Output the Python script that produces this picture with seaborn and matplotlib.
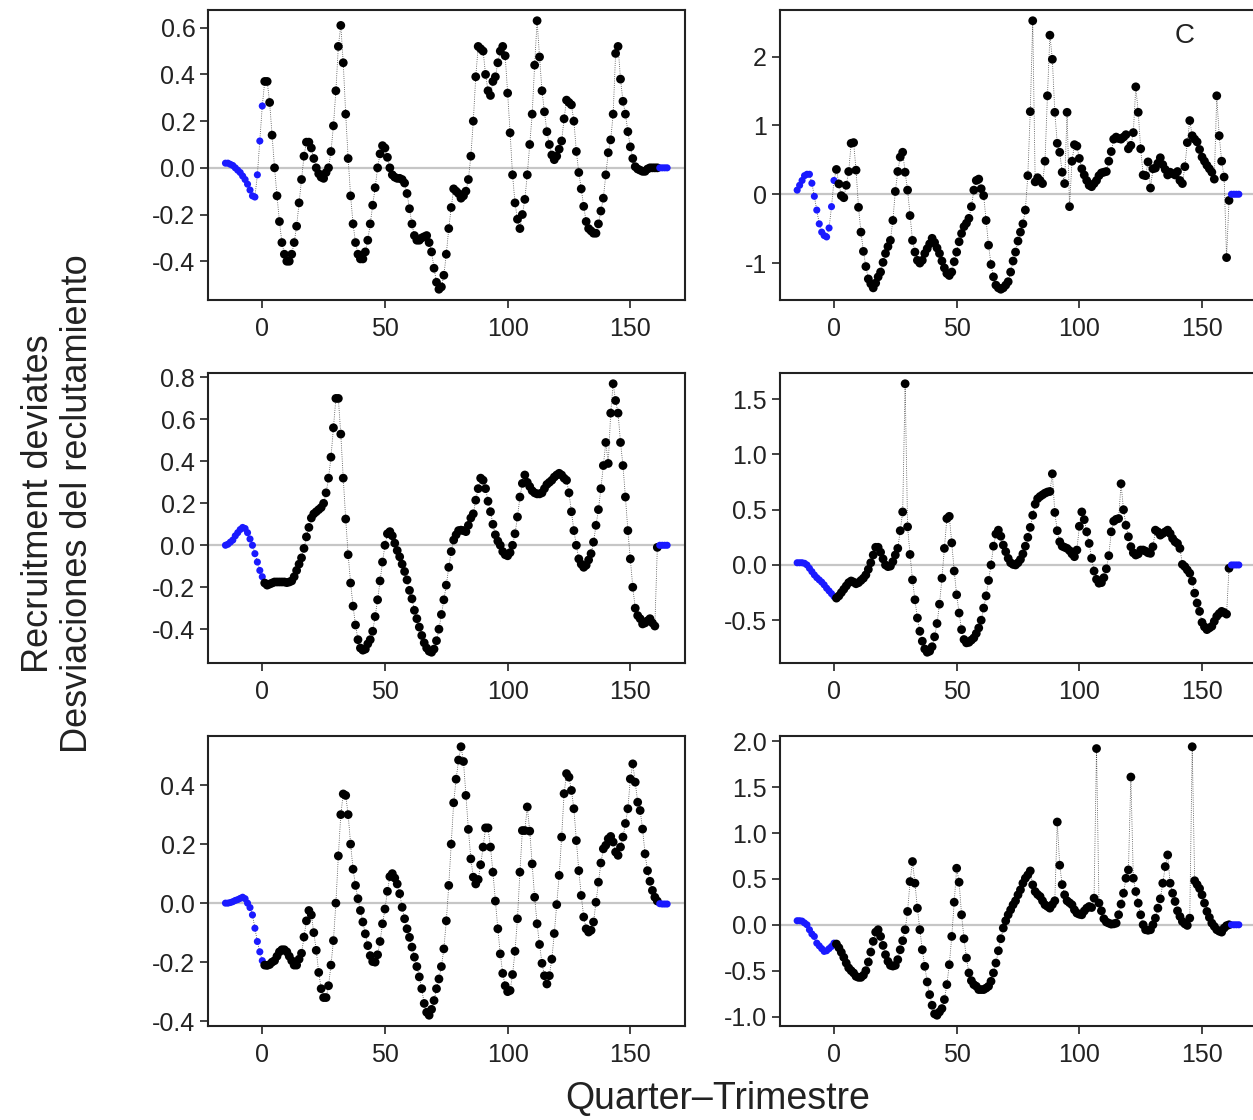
import numpy as np
import pandas as pd
import seaborn as sns
import matplotlib.pyplot as plt

sns.set_theme(style="ticks")
plt.rcParams['font.family'] = ['Liberation Sans', 'DejaVu Sans']
plt.rcParams['axes.unicode_minus'] = False

# first quarter of every series (blue = fixed / projected part)
start_quarter = -15

# recruitment deviates, one value per quarter from -15
top_left = [0.02, 0.02, 0.015, 0.01, 0.0, -0.01, -0.02, -0.035, -0.05, -0.07, -0.095, -0.12, -0.125, -0.03, 0.115, 0.265,
            0.37, 0.37, 0.28, 0.14, 0.0, -0.12, -0.23, -0.32, -0.37, -0.40, -0.40, -0.37, -0.32, -0.25, -0.15, -0.05, 0.05, 0.11, 0.11, 0.085,
            0.04, 0.0, -0.025, -0.04, -0.045, -0.02, 0.0, 0.07, 0.18, 0.33, 0.52, 0.61, 0.45, 0.23, 0.04, -0.12, -0.24, -0.32, -0.37, -0.39,
            -0.39, -0.36, -0.31, -0.24, -0.16, -0.085, 0.0, 0.06, 0.095, 0.085, 0.045, 0.0, -0.03, -0.04, -0.045, -0.045, -0.05, -0.065, -0.11, -0.175,
            -0.24, -0.29, -0.31, -0.31, -0.30, -0.295, -0.29, -0.32, -0.36, -0.43, -0.49, -0.52, -0.51, -0.46, -0.37, -0.26, -0.17, -0.09, -0.10, -0.11,
            -0.13, -0.12, -0.10, -0.05, 0.05, 0.20, 0.39, 0.52, 0.51, 0.50, 0.40, 0.33, 0.31, 0.37, 0.39, 0.45, 0.50, 0.52, 0.48, 0.32,
            0.15, -0.03, -0.15, -0.22, -0.26, -0.20, -0.135, -0.03, 0.10, 0.23, 0.44, 0.63, 0.475, 0.33, 0.24, 0.155, 0.10, 0.055, 0.035, 0.05,
            0.08, 0.115, 0.21, 0.29, 0.28, 0.27, 0.20, 0.07, -0.02, -0.09, -0.165, -0.23, -0.26, -0.27, -0.28, -0.28, -0.24, -0.185, -0.13, -0.03,
            0.065, 0.12, 0.23, 0.49, 0.52, 0.38, 0.285, 0.23, 0.155, 0.09, 0.04, 0.005, -0.005, -0.01, -0.015, -0.015, -0.005, 0.0, 0.0, 0.0,
            0.0, 0.0, 0.0, 0.0, 0.0]

top_right = [0.06, 0.13, 0.20, 0.27, 0.29, 0.29, 0.16, -0.03, -0.23, -0.43, -0.55, -0.60, -0.62, -0.49, -0.18, 0.20,
             0.36, 0.15, -0.02, -0.05, 0.13, 0.33, 0.74, 0.75, 0.35, -0.19, -0.55, -0.83, -1.05, -1.23, -1.30, -1.36, -1.29, -1.20, -1.13, -0.99,
             -0.86, -0.76, -0.67, -0.38, 0.04, 0.33, 0.54, 0.61, 0.32, 0.06, -0.31, -0.67, -0.84, -0.96, -1.0, -0.96, -0.86, -0.79, -0.72, -0.64,
             -0.70, -0.78, -0.86, -0.97, -1.07, -1.15, -1.18, -1.13, -0.98, -0.84, -0.69, -0.57, -0.47, -0.42, -0.35, -0.18, 0.06, 0.20, 0.22, 0.08,
             -0.02, -0.38, -0.74, -1.02, -1.20, -1.32, -1.36, -1.38, -1.36, -1.32, -1.27, -1.13, -0.97, -0.84, -0.68, -0.55, -0.43, -0.23, 0.27, 1.20,
             2.52, 0.18, 0.24, 0.20, 0.155, 0.48, 1.43, 2.31, 1.96, 1.19, 0.74, 0.61, 0.32, 0.155, 1.19, -0.18, 0.48, 0.72, 0.70, 0.52,
             0.37, 0.28, 0.20, 0.13, 0.11, 0.155, 0.20, 0.27, 0.31, 0.32, 0.33, 0.48, 0.62, 0.80, 0.83, 0.81, 0.80, 0.83, 0.865, 0.66,
             0.71, 0.895, 1.56, 1.19, 0.66, 0.28, 0.27, 0.47, 0.09, 0.37, 0.38, 0.45, 0.53, 0.43, 0.36, 0.28, 0.32, 0.30, 0.28, 0.33,
             0.20, 0.155, 0.40, 0.75, 1.07, 0.85, 0.80, 0.76, 0.65, 0.54, 0.48, 0.42, 0.37, 0.32, 0.22, 1.43, 0.85, 0.48, 0.25, -0.92,
             -0.09, 0.0, 0.0, 0.0, 0.0]

mid_left = [0.0, 0.005, 0.015, 0.025, 0.045, 0.06, 0.075, 0.085, 0.08, 0.06, 0.03, 0.0, -0.04, -0.08, -0.12, -0.15,
            -0.18, -0.19, -0.185, -0.18, -0.175, -0.175, -0.175, -0.175, -0.175, -0.178, -0.175, -0.17, -0.15, -0.12, -0.09, -0.06, -0.015, 0.04, 0.085, 0.13,
            0.15, 0.16, 0.17, 0.18, 0.20, 0.25, 0.32, 0.42, 0.56, 0.70, 0.70, 0.53, 0.32, 0.125, -0.045, -0.18, -0.29, -0.38, -0.45, -0.49,
            -0.50, -0.495, -0.47, -0.45, -0.41, -0.34, -0.26, -0.17, -0.08, 0.0, 0.055, 0.065, 0.045, 0.01, -0.025, -0.055, -0.09, -0.125, -0.165, -0.215,
            -0.255, -0.31, -0.35, -0.39, -0.43, -0.465, -0.49, -0.505, -0.51, -0.495, -0.455, -0.40, -0.33, -0.26, -0.19, -0.105, -0.03, 0.025, 0.05, 0.07,
            0.072, 0.07, 0.065, 0.095, 0.13, 0.15, 0.215, 0.27, 0.32, 0.31, 0.27, 0.21, 0.16, 0.10, 0.05, 0.02, 0.0, -0.03, -0.045, -0.05,
            -0.035, 0.0, 0.055, 0.135, 0.23, 0.295, 0.335, 0.30, 0.28, 0.26, 0.25, 0.245, 0.245, 0.25, 0.27, 0.29, 0.30, 0.31, 0.325, 0.335,
            0.343, 0.335, 0.32, 0.31, 0.25, 0.16, 0.07, 0.0, -0.065, -0.09, -0.105, -0.095, -0.07, -0.04, 0.015, 0.095, 0.17, 0.27, 0.38, 0.49,
            0.39, 0.63, 0.77, 0.69, 0.63, 0.49, 0.38, 0.23, 0.07, -0.065, -0.20, -0.30, -0.335, -0.35, -0.375, -0.37, -0.36, -0.35, -0.37, -0.385,
            -0.01, 0.0, 0.0, 0.0, 0.0]

mid_right = [0.02, 0.02, 0.02, 0.015, 0.0, -0.03, -0.06, -0.09, -0.115, -0.135, -0.155, -0.18, -0.21, -0.235, -0.26, -0.285,
             -0.30, -0.28, -0.25, -0.22, -0.19, -0.16, -0.145, -0.155, -0.17, -0.16, -0.14, -0.12, -0.09, -0.04, 0.02, 0.09, 0.16, 0.16, 0.115, 0.055,
             0.0, -0.015, -0.01, 0.03, 0.09, 0.15, 0.31, 0.48, 1.64, 0.345, 0.095, -0.135, -0.315, -0.48, -0.60, -0.69, -0.76, -0.79, -0.78, -0.74,
             -0.65, -0.53, -0.355, -0.12, 0.15, 0.42, 0.44, 0.20, -0.055, -0.27, -0.435, -0.585, -0.675, -0.705, -0.70, -0.68, -0.66, -0.62, -0.57, -0.50,
             -0.39, -0.28, -0.14, 0.0, 0.17, 0.28, 0.315, 0.26, 0.18, 0.12, 0.06, 0.02, 0.005, 0.0, 0.02, 0.05, 0.10, 0.17, 0.25, 0.34,
             0.45, 0.55, 0.60, 0.62, 0.635, 0.65, 0.66, 0.665, 0.825, 0.475, 0.31, 0.21, 0.17, 0.16, 0.15, 0.13, 0.10, 0.075, 0.135, 0.35,
             0.48, 0.41, 0.30, 0.195, 0.06, -0.055, -0.13, -0.165, -0.16, -0.115, -0.035, 0.084, 0.30, 0.396, 0.413, 0.42, 0.735, 0.50, 0.36, 0.255,
             0.165, 0.11, 0.09, 0.10, 0.135, 0.135, 0.125, 0.11, 0.105, 0.165, 0.315, 0.30, 0.27, 0.285, 0.30, 0.315, 0.285, 0.24, 0.21, 0.195,
             0.15, 0.005, -0.015, -0.045, -0.075, -0.145, -0.255, -0.345, -0.42, -0.52, -0.56, -0.585, -0.57, -0.555, -0.51, -0.465, -0.44, -0.42, -0.43, -0.445,
             -0.03, 0.0, 0.0, 0.0, 0.0]

bot_left = [0.0, 0.0, 0.002, 0.005, 0.009, 0.012, 0.016, 0.02, 0.015, 0.0, -0.015, -0.04, -0.085, -0.13, -0.165, -0.195,
            -0.21, -0.211, -0.208, -0.20, -0.195, -0.18, -0.165, -0.158, -0.158, -0.165, -0.18, -0.195, -0.21, -0.21, -0.19, -0.17, -0.115, -0.06, -0.025, -0.04,
            -0.10, -0.16, -0.235, -0.29, -0.32, -0.32, -0.28, -0.21, -0.127, 0.0, 0.16, 0.30, 0.37, 0.365, 0.30, 0.20, 0.115, 0.06, 0.015, -0.025,
            -0.064, -0.104, -0.144, -0.178, -0.198, -0.20, -0.175, -0.13, -0.07, -0.02, 0.04, 0.09, 0.10, 0.085, 0.065, 0.032, -0.014, -0.053, -0.087, -0.116,
            -0.149, -0.183, -0.215, -0.25, -0.29, -0.34, -0.37, -0.38, -0.36, -0.33, -0.29, -0.257, -0.215, -0.155, -0.06, 0.06, 0.20, 0.34, 0.42, 0.485,
            0.53, 0.48, 0.365, 0.25, 0.15, 0.088, 0.065, 0.08, 0.13, 0.19, 0.255, 0.255, 0.19, 0.105, 0.007, -0.087, -0.172, -0.238, -0.28, -0.30,
            -0.296, -0.242, -0.163, -0.053, 0.105, 0.246, 0.246, 0.326, 0.244, 0.133, 0.02, -0.07, -0.14, -0.204, -0.246, -0.274, -0.246, -0.19, -0.103, -0.005,
            0.094, 0.224, 0.371, 0.439, 0.427, 0.382, 0.32, 0.212, 0.11, 0.026, -0.047, -0.087, -0.098, -0.092, -0.064, 0.003, 0.071, 0.136, 0.184, 0.196,
            0.218, 0.226, 0.207, 0.173, 0.162, 0.19, 0.224, 0.27, 0.32, 0.421, 0.472, 0.41, 0.342, 0.314, 0.251, 0.167, 0.11, 0.074, 0.043, 0.02,
            0.007, -0.002, -0.003, -0.003, -0.003]

bot_right = [0.044, 0.044, 0.04, 0.02, 0.0, -0.054, -0.10, -0.127, -0.20, -0.23, -0.26, -0.29, -0.283, -0.26, -0.236, -0.20,
             -0.21, -0.25, -0.30, -0.355, -0.417, -0.47, -0.50, -0.525, -0.562, -0.573, -0.573, -0.55, -0.50, -0.406, -0.297, -0.181, -0.08, -0.054, -0.127, -0.225,
             -0.326, -0.399, -0.442, -0.45, -0.442, -0.38, -0.272, -0.174, -0.054, 0.145, 0.471, 0.689, 0.453, 0.181, -0.054, -0.272, -0.453, -0.623, -0.761, -0.877,
             -0.971, -0.986, -0.95, -0.913, -0.815, -0.652, -0.435, -0.127, 0.246, 0.616, 0.464, 0.109, -0.152, -0.362, -0.525, -0.609, -0.652, -0.67, -0.706, -0.706,
             -0.706, -0.69, -0.67, -0.616, -0.525, -0.417, -0.283, -0.152, -0.036, 0.044, 0.109, 0.163, 0.218, 0.261, 0.326, 0.381, 0.453, 0.507, 0.543, 0.587,
             0.435, 0.362, 0.33, 0.308, 0.261, 0.218, 0.20, 0.181, 0.22, 0.261, 1.12, 0.649, 0.438, 0.326, 0.261, 0.24, 0.218, 0.163, 0.127, 0.115,
             0.109, 0.15, 0.181, 0.199, 0.188, 0.29, 1.92, 0.236, 0.152, 0.065, 0.03, 0.018, 0.007, 0.01, 0.018, 0.109, 0.225, 0.344, 0.507, 0.598,
             1.61, 0.507, 0.362, 0.236, 0.109, 0.0, -0.054, -0.06, -0.054, 0.0, 0.072, 0.181, 0.283, 0.453, 0.634, 0.761, 0.453, 0.344, 0.254, 0.152,
             0.09, 0.036, 0.01, -0.007, 0.072, 1.94, 0.48, 0.438, 0.395, 0.326, 0.236, 0.145, 0.08, 0.018, -0.018, -0.054, -0.07, -0.08, -0.036, -0.01,
             0.0, 0.0, 0.0, 0.0, 0.0]

x_ticks = [0, 50, 100, 150]
top_left_ticks = [-0.4, -0.2, 0.0, 0.2, 0.4, 0.6]
top_right_ticks = [-1, 0, 1, 2]
mid_left_ticks = [-0.4, -0.2, 0.0, 0.2, 0.4, 0.6, 0.8]
mid_right_ticks = [-0.5, 0.0, 0.5, 1.0, 1.5]
bot_left_ticks = [-0.4, -0.2, 0.0, 0.2, 0.4]
bot_right_ticks = [-1.0, -0.5, 0.0, 0.5, 1.0, 1.5, 2.0]


def make_frame(values):
    quarter = np.arange(start_quarter, start_quarter + len(values))
    df = pd.DataFrame({"quarter": quarter, "deviate": values})
    df["part"] = np.where((df["quarter"] <= 0) | (df["quarter"] >= 162), "fixed", "estimated")
    return df


def draw_panel(ax, values, yticks, fmt):
    df = make_frame(values)
    ax.axhline(0, color="#c6c6c6", lw=1.6, zorder=0)
    sns.lineplot(data=df, x="quarter", y="deviate", ax=ax, color="#444444", lw=0.6,
                 linestyle=":", sort=False, estimator=None, zorder=1)
    sns.scatterplot(data=df, x="quarter", y="deviate", hue="part", size="part",
                    palette={"estimated": "black", "fixed": "#1a1aff"},
                    sizes={"estimated": 40, "fixed": 26},
                    linewidth=0, legend=False, ax=ax, zorder=2)
    ax.margins(x=0.04, y=0.04)
    ax.set_xticks(x_ticks)
    ax.set_yticks(yticks)
    ax.set_yticklabels([fmt % t for t in yticks])
    ax.set_xlabel("")
    ax.set_ylabel("")
    ax.tick_params(length=6, width=1.2, labelsize=18, colors="#222222", pad=3)
    ax.tick_params(axis="x", pad=6)
    for spine in ax.spines.values():
        spine.set_visible(True)
        spine.set_linewidth(1.5)
        spine.set_color("#222222")


fig = plt.figure(figsize=(12.53, 11.2), dpi=100)

# panel boxes in figure fractions (right column runs slightly off the page, as in the source)
col_left = [207.8 / 1253, 779.5 / 1253]
col_width = 477 / 1253
row_bottom = [1 - 300 / 1120, 1 - 663 / 1120, 1 - 1026 / 1120]
row_height = 290 / 1120

ax1 = fig.add_axes([col_left[0], row_bottom[0], col_width, row_height])
draw_panel(ax1, top_left, top_left_ticks, "%.1f")

ax2 = fig.add_axes([col_left[1], row_bottom[0], col_width, row_height])
draw_panel(ax2, top_right, top_right_ticks, "%d")
ax2.text(0.85, 0.91, "C", transform=ax2.transAxes, fontsize=20, ha="center", va="center", color="#222222")

ax3 = fig.add_axes([col_left[0], row_bottom[1], col_width, row_height])
draw_panel(ax3, mid_left, mid_left_ticks, "%.1f")

ax4 = fig.add_axes([col_left[1], row_bottom[1], col_width, row_height])
draw_panel(ax4, mid_right, mid_right_ticks, "%.1f")

ax5 = fig.add_axes([col_left[0], row_bottom[2], col_width, row_height])
draw_panel(ax5, bot_left, bot_left_ticks, "%.1f")

ax6 = fig.add_axes([col_left[1], row_bottom[2], col_width, row_height])
draw_panel(ax6, bot_right, bot_right_ticks, "%.1f")

fig.text(0.046, 0.55, "Recruitment deviates\nDesviaciones del reclutamiento", rotation=90,
         ha="center", va="center", fontsize=26, color="#222222", linespacing=1.15)
fig.text(0.573, 0.019, "Quarter\u2013Trimestre", ha="center", va="center", fontsize=27, color="#222222")

fig.savefig("out.png", dpi=100)
